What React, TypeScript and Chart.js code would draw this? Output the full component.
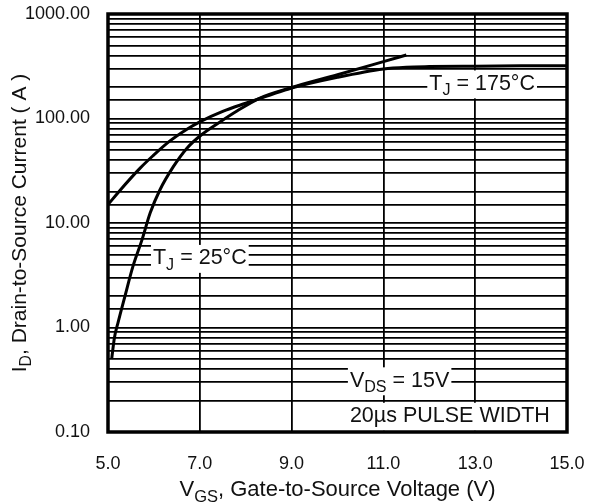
import React, { useEffect, useRef } from 'react';
import { Chart, registerables } from 'chart.js';

Chart.register(...registerables);

// ---- data ----
const xTickValues = [5, 7, 9, 11, 13, 15];
const yLabelValues = [0.1, 1, 10, 100, 1000];
const yLabelTexts = ['0.10', '1.00', '10.00', '100.00', '1000.00'];

// T_J = 25°C curve
const vgs25 = [5.08, 5.14, 5.22, 5.37, 5.54, 5.74, 5.92, 6.13, 6.42, 6.72, 7.03, 7.44, 7.81, 8.31, 9.0, 10.0, 11.0, 11.5];
const id25 = [0.5, 0.8, 1.12, 2.0, 3.8, 6.9, 12.5, 20.7, 34.4, 52, 69.5, 92.7, 118, 157, 198, 262, 350, 405];

// T_J = 175°C curve
const vgs175 = [5.0, 5.26, 5.7, 5.98, 6.35, 6.72, 7.0, 7.5, 8.0, 8.5, 9.0, 10.0, 11.0, 11.5, 12.0, 13.0, 14.0, 15.0];
const id175 = [15, 20.5, 33.5, 44, 61, 79, 93, 117, 140, 166, 196, 248, 298, 310, 314, 317, 319, 320];

// annotation texts: [text, isSubscript]
type Part = [string, boolean];
const labelTJ175: Part[] = [['T', false], ['J', true], [' = 175°C', false]];
const labelTJ25: Part[] = [['T', false], ['J', true], [' = 25°C', false]];
const labelVDS: Part[] = [['V', false], ['DS', true], [' = 15V', false]];
const labelPulse: Part[] = [['20µs PULSE WIDTH', false]];
const xTitle: Part[] = [['V', false], ['GS', true], [', Gate-to-Source Voltage (V)', false]];
const yTitle: Part[] = [['I', false], ['D', true], [', Drain-to-Source Current ( A )', false]];

const annotations = [
  { x: 12.0, y: 215, parts: labelTJ175 },
  { x: 5.98, y: 4.6, parts: labelTJ25 },
  { x: 10.27, y: 0.31, parts: labelVDS },
  { x: 10.27, y: 0.142, parts: labelPulse },
];

const FONT = '"Liberation Sans", Arial, sans-serif';

function measureRich(ctx: CanvasRenderingContext2D, parts: Part[], size: number) {
  let w = 0;
  for (const [t, sub] of parts) {
    ctx.font = `${sub ? size * 0.75 : size}px ${FONT}`;
    w += ctx.measureText(t).width;
  }
  return w;
}

function drawRich(ctx: CanvasRenderingContext2D, parts: Part[], x: number, y: number, size: number) {
  let cx = x;
  ctx.textBaseline = 'middle';
  ctx.textAlign = 'left';
  for (const [t, sub] of parts) {
    ctx.font = `${sub ? size * 0.75 : size}px ${FONT}`;
    ctx.fillText(t, cx, sub ? y + size * 0.32 : y);
    cx += ctx.measureText(t).width;
  }
}

const decorPlugin = {
  id: 'decor',
  beforeDatasetsDraw(chart: any) {
    const ctx: CanvasRenderingContext2D = chart.ctx;
    const xs = chart.scales.x;
    const ys = chart.scales.y;
    const size = 21.5;
    ctx.save();
    for (const a of annotations) {
      const px = xs.getPixelForValue(a.x);
      const py = ys.getPixelForValue(a.y);
      const w = measureRich(ctx, a.parts, size);
      ctx.fillStyle = '#fff';
      ctx.fillRect(px - 2, py - size * 0.62, w + 4, size * 1.3);
      ctx.fillStyle = '#111';
      drawRich(ctx, a.parts, px, py, size);
    }
    ctx.restore();
  },
  afterDatasetsDraw(chart: any) {
    const ctx: CanvasRenderingContext2D = chart.ctx;
    const a = chart.chartArea;
    ctx.save();
    ctx.strokeStyle = '#000';
    ctx.lineWidth = 3.5;
    ctx.strokeRect(a.left, a.top, a.right - a.left, a.bottom - a.top);
    ctx.restore();
  },
  afterDraw(chart: any) {
    const ctx: CanvasRenderingContext2D = chart.ctx;
    const a = chart.chartArea;
    ctx.save();
    ctx.fillStyle = '#111';
    // x title
    const sx = 22;
    const wx = measureRich(ctx, xTitle, sx);
    drawRich(ctx, xTitle, (a.left + a.right) / 2 - wx / 2, 490, sx);
    // y title
    const sy = 21;
    const wy = measureRich(ctx, yTitle, sy);
    ctx.translate(20, (a.top + a.bottom) / 2);
    ctx.rotate(-Math.PI / 2);
    drawRich(ctx, yTitle, -wy / 2, 0, sy);
    ctx.restore();
  },
};

export default function App() {
  const ref = useRef<HTMLCanvasElement>(null);
  useEffect(() => {
    if (!ref.current) return;
    const chart = new Chart(ref.current, {
      type: 'line',
      data: {
        datasets: [
          {
            label: 'TJ = 25°C',
            data: vgs25.map((v, i) => ({ x: v, y: id25[i] })),
            borderColor: '#000',
            borderWidth: 3,
            pointRadius: 0,
            cubicInterpolationMode: 'monotone',
            fill: false,
          },
          {
            label: 'TJ = 175°C',
            data: vgs175.map((v, i) => ({ x: v, y: id175[i] })),
            borderColor: '#000',
            borderWidth: 3,
            pointRadius: 0,
            cubicInterpolationMode: 'monotone',
            fill: false,
          },
        ],
      },
      options: {
        responsive: false,
        animation: false,
        events: [],
        layout: { padding: { top: 14, right: 22, left: 0, bottom: 0 } },
        plugins: { legend: { display: false }, tooltip: { enabled: false }, title: { display: false } },
        scales: {
          x: {
            type: 'linear',
            min: 5,
            max: 15,
            afterFit: (s: any) => { s.height = 72; s.paddingLeft = 0; s.paddingRight = 0; },
            afterBuildTicks: (s: any) => { s.ticks = xTickValues.map((v) => ({ value: v })); },
            ticks: {
              autoSkip: false,
              maxRotation: 0,
              padding: 21,
              color: '#111',
              font: { family: FONT, size: 18 },
              callback: (v: any) => Number(v).toFixed(1),
            },
            grid: { color: '#000', lineWidth: 1.8, drawTicks: false },
            border: { display: false },
          },
          y: {
            type: 'logarithmic',
            min: 0.1,
            max: 1000,
            afterFit: (s: any) => { s.width = 108; s.paddingTop = 0; s.paddingBottom = 0; },
            ticks: {
              autoSkip: false,
              padding: 18,
              color: '#111',
              font: { family: FONT, size: 18 },
              callback: (v: any) => {
                const i = yLabelValues.findIndex((t) => Math.abs(Math.log10(t) - Math.log10(Number(v))) < 1e-6);
                return i >= 0 ? yLabelTexts[i] : '';
              },
            },
            grid: { color: '#000', lineWidth: 1.8, drawTicks: false },
            border: { display: false },
          },
        },
      },
      plugins: [decorPlugin],
    } as any);
    return () => chart.destroy();
  }, []);
  return (
    <div style={{ position: 'fixed', left: 0, top: 0, width: 589, height: 504, background: '#fff' }}>
      <canvas ref={ref} width={589} height={504} style={{ width: 589, height: 504, display: 'block' }} />
    </div>
  );
}
